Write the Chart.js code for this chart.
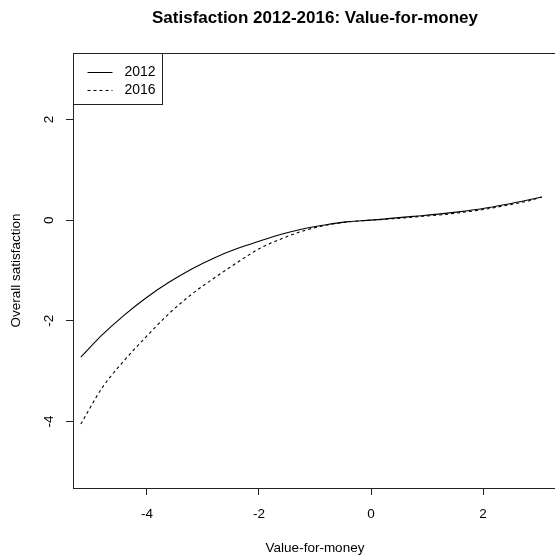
<!DOCTYPE html>
<html>
<head>
<meta charset="utf-8">
<script src="https://cdn.jsdelivr.net/npm/chart.js@4"></script>
<style>
  html, body { margin: 0; padding: 0; background: #fff; overflow: hidden; }
  #wrap { width: 560px; height: 559px; }
</style>
</head>
<body>
<div id="wrap"><canvas id="c" width="560" height="559"></canvas></div>
<script>
// Fitted response curves: overall satisfaction against value-for-money
const valueForMoney = [-5.18, -4.8, -4.4, -4.0, -3.6, -3.2, -2.8, -2.4, -2.0, -1.6, -1.2, -0.8, -0.4, 0.0, 0.4, 0.8, 1.2, 1.6, 2.0, 2.4, 2.8, 3.05];
const satisfaction2012 = [-2.72, -2.28, -1.88, -1.53, -1.23, -0.97, -0.75, -0.57, -0.42, -0.28, -0.17, -0.09, -0.03, 0.00, 0.04, 0.08, 0.12, 0.17, 0.23, 0.31, 0.40, 0.46];
const satisfaction2016 = [-4.05, -3.33, -2.78, -2.30, -1.85, -1.47, -1.15, -0.85, -0.57, -0.37, -0.21, -0.10, -0.035, 0.00, 0.03, 0.065, 0.10, 0.15, 0.21, 0.29, 0.38, 0.46];
const seriesNames = ['2012', '2016'];
const xTickValues = [-4, -2, 0, 2];
const yTickValues = [-4, -2, 0, 2];

const FONT = '"Liberation Sans", Arial, Helvetica, sans-serif';
const INK = '#000';
const FRAME = '#222';

function toPoints(ys) {
  return valueForMoney.map((x, i) => ({ x: x, y: ys[i] }));
}

// Full box around the plotting region
const frameBox = {
  id: 'frameBox',
  afterDatasetsDraw(chart) {
    const a = chart.chartArea;
    const ctx = chart.ctx;
    ctx.save();
    ctx.strokeStyle = FRAME;
    ctx.lineWidth = 1;
    ctx.strokeRect(Math.round(a.left) + 0.5, Math.round(a.top) + 0.5,
                   Math.round(a.right - a.left), Math.round(a.bottom - a.top));
    ctx.restore();
  }
};

// Boxed legend in the top-left corner, built from the datasets
const boxedLegend = {
  id: 'boxedLegend',
  afterDraw(chart) {
    const a = chart.chartArea;
    const ctx = chart.ctx;
    const left = Math.round(a.left) + 0.5;
    const top = Math.round(a.top) + 0.5;
    const w = 89, h = 51;
    ctx.save();
    ctx.fillStyle = '#fff';
    ctx.fillRect(left, top, w, h);
    ctx.strokeStyle = FRAME;
    ctx.lineWidth = 1;
    ctx.strokeRect(left, top, w, h);
    ctx.font = '14px ' + FONT;
    ctx.textBaseline = 'middle';
    ctx.textAlign = 'left';
    chart.data.datasets.forEach((ds, i) => {
      const y = Math.round(top + 18 + i * 18) + 0.5;
      ctx.strokeStyle = ds.borderColor;
      ctx.lineWidth = 1;
      ctx.setLineDash(ds.borderDash || []);
      ctx.beginPath();
      ctx.moveTo(left + 14, y);
      ctx.lineTo(left + 39, y);
      ctx.stroke();
      ctx.setLineDash([]);
      ctx.fillStyle = INK;
      ctx.fillText(ds.label, left + 51, y);
    });
    ctx.restore();
  }
};

new Chart(document.getElementById('c'), {
  type: 'line',
  data: {
    datasets: [
      {
        label: seriesNames[0],
        data: toPoints(satisfaction2012),
        borderColor: '#000',
        borderWidth: 1.1,
        pointRadius: 0,
        cubicInterpolationMode: 'monotone',
        fill: false
      },
      {
        label: seriesNames[1],
        data: toPoints(satisfaction2016),
        borderColor: '#000',
        borderWidth: 1.1,
        borderDash: [3, 3],
        pointRadius: 0,
        cubicInterpolationMode: 'monotone',
        fill: false
      }
    ]
  },
  options: {
    responsive: false,
    animation: false,
    devicePixelRatio: 1,
    layout: { padding: { left: 0, right: 3, top: 0, bottom: 0 } },
    plugins: {
      legend: { display: false },
      tooltip: { enabled: false },
      title: {
        display: true,
        fullSize: false,
        text: 'Satisfaction 2012-2016: Value-for-money',
        color: INK,
        font: { family: FONT, size: 17, weight: 'bold', lineHeight: 1.2 },
        padding: { top: 8, bottom: 24.6 }
      }
    },
    scales: {
      x: {
        type: 'linear',
        min: -5.32,
        max: 3.32,
        afterBuildTicks(scale) { scale.ticks = xTickValues.map(v => ({ value: v })); },
        afterFit(scale) { scale.height = 71; },
        border: { display: false },
        grid: { drawOnChartArea: false, drawTicks: true, tickLength: 7, color: FRAME, tickColor: FRAME },
        ticks: {
          color: INK,
          font: { family: FONT, size: 13.5 },
          padding: 11,
          maxRotation: 0,
          autoSkip: false
        },
        title: {
          display: true,
          text: 'Value-for-money',
          color: INK,
          font: { family: FONT, size: 13.5 },
          padding: { top: 0, bottom: 3 }
        }
      },
      y: {
        type: 'linear',
        min: -5.32,
        max: 3.32,
        afterBuildTicks(scale) { scale.ticks = yTickValues.map(v => ({ value: v })); },
        afterFit(scale) { scale.width = 73; },
        border: { display: false },
        grid: { drawOnChartArea: false, drawTicks: true, tickLength: 7, color: FRAME, tickColor: FRAME },
        ticks: {
          color: INK,
          font: { family: FONT, size: 13.5 },
          minRotation: 90,
          maxRotation: 90,
          crossAlign: 'center',
          padding: 11,
          autoSkip: false
        },
        title: {
          display: true,
          text: 'Overall satisfaction',
          color: INK,
          font: { family: FONT, size: 13.5 },
          padding: { top: 8, bottom: 0 }
        }
      }
    }
  },
  plugins: [frameBox, boxedLegend]
});
</script>
</body>
</html>
